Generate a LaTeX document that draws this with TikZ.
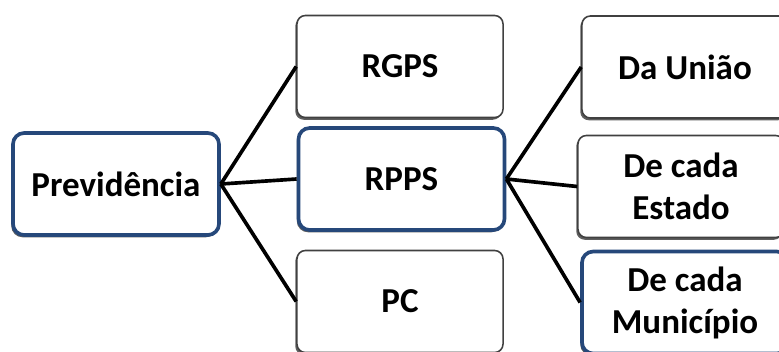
\documentclass[tikz,border=0pt]{standalone}
\usepackage{fontspec}
\setmainfont{Carlito}
\usetikzlibrary{shadows}
\definecolor{boxblue}{RGB}{38,72,122}

\begin{document}
\begin{tikzpicture}[x=0.025cm,y=-0.025cm,line width=2.6pt,
  txt/.style={font=\fontsize{24.9}{29.9}\selectfont\bfseries,align=center,text=black},
  greybox/.style={txt,draw=black!75,line width=1.1pt,fill=white,rounded corners=6pt,
    minimum width=5.15cm,minimum height=2.55cm,inner sep=0pt,
    drop shadow={shadow xshift=-1.2pt,shadow yshift=-1.6pt,fill=black!70,opacity=.9}},
  bluebox/.style={greybox,draw=boxblue,line width=2.6pt,rounded corners=8pt}]
  \useasboundingbox (0,0) rectangle (779,351);
  \begin{scope}
  \clip (0,0) rectangle (779,351);
  % raiz
  \node[bluebox] (prev) at (116,184) {Previd\^encia};
  % regimes
  \node[greybox] (rgps) at (400,66.5) {RGPS};
  \node[bluebox] (rpps) at (401.5,179) {RPPS};
  \node[greybox] (pc) at (400,301.5) {PC};
  % entes do RPPS
  \node[greybox] (uniao) at (685,67) {Da Uni\~ao};
  \node[greybox] (estado) at (681,186.5) {De cada\\Estado};
  \node[bluebox] (municipio) at (685,302.5) {De cada\\Munic\'ipio};
  % ligacoes
  \draw (prev.east) -- (rgps.west);
  \draw (prev.east) -- (rpps.west);
  \draw (prev.east) -- (pc.west);
  \draw (rpps.east) -- (uniao.west);
  \draw (rpps.east) -- (estado.west);
  \draw (rpps.east) -- (municipio.west);
  \end{scope}
\end{tikzpicture}
\end{document}
